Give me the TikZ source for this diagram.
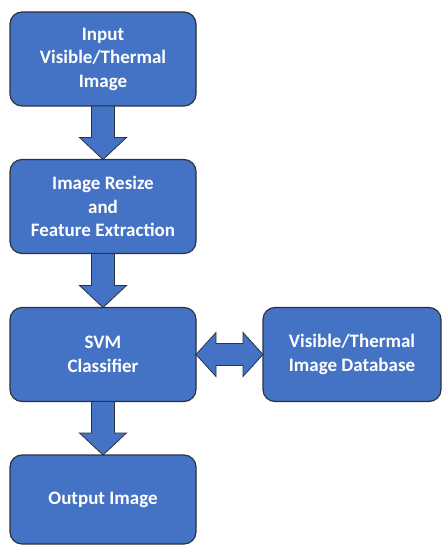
\documentclass[tikz,border=0pt]{standalone}
\usepackage{fontspec}
\setmainfont{Carlito}
\usetikzlibrary{calc}
\definecolor{boxblue}{RGB}{68,114,196}
\definecolor{boxedge}{RGB}{45,50,60}
\tikzset{
  procbox/.style={draw=boxedge, line width=1.2pt, fill=boxblue, rounded corners=12pt,
    text=white, font=\bfseries\fontsize{19}{23.5}\selectfont, align=center,
    inner sep=0pt, outer sep=0pt, minimum width=186pt, minimum height=94pt},
  blockarr/.style={draw=boxedge, line width=0.8pt, fill=boxblue, line join=miter}
}
\begin{document}
\begin{tikzpicture}[x=1pt,y=-1pt]
                    \useasboundingbox (0,0) rectangle (445,545);
                    \node[procbox] (input) at (103,59) {Input\\Visible/Thermal\\Image};
                    \node[procbox] (resize) at (103,206.5) {Image Resize\\and\\Feature Extraction};
                    \node[procbox] (svm) at (103,354.5) {SVM\\Classifier};
                    \node[procbox, minimum width=178pt] (db) at (352,354.5) {Visible/Thermal\\Image Database};
                    \node[procbox, minimum height=89pt] (output) at (103,499.5) {Output Image};
                    % down arrows
                    \foreach \a/\b in {input/resize,resize/svm,svm/output}
                        \draw[blockarr] ($(\a.south)+(-11.5,0)$) -- ($(\a.south)+(11.5,0)$)
                            -- ($(\b.north)+(11.5,-22)$) -- ($(\b.north)+(23.5,-22)$) -- (\b.north)
                            -- ($(\b.north)+(-23.5,-22)$) -- ($(\b.north)+(-11.5,-22)$) -- cycle;
                    % two-way arrow
                    \draw[blockarr] (svm.east) -- ($(svm.east)+(20,-22)$) -- ($(svm.east)+(20,-11)$)
                        -- ($(db.west)+(-20,-11)$) -- ($(db.west)+(-20,-22)$) -- (db.west)
                        -- ($(db.west)+(-20,22)$) -- ($(db.west)+(-20,11)$)
                        -- ($(svm.east)+(20,11)$) -- ($(svm.east)+(20,22)$) -- cycle;
                \end{tikzpicture}
\end{document}
